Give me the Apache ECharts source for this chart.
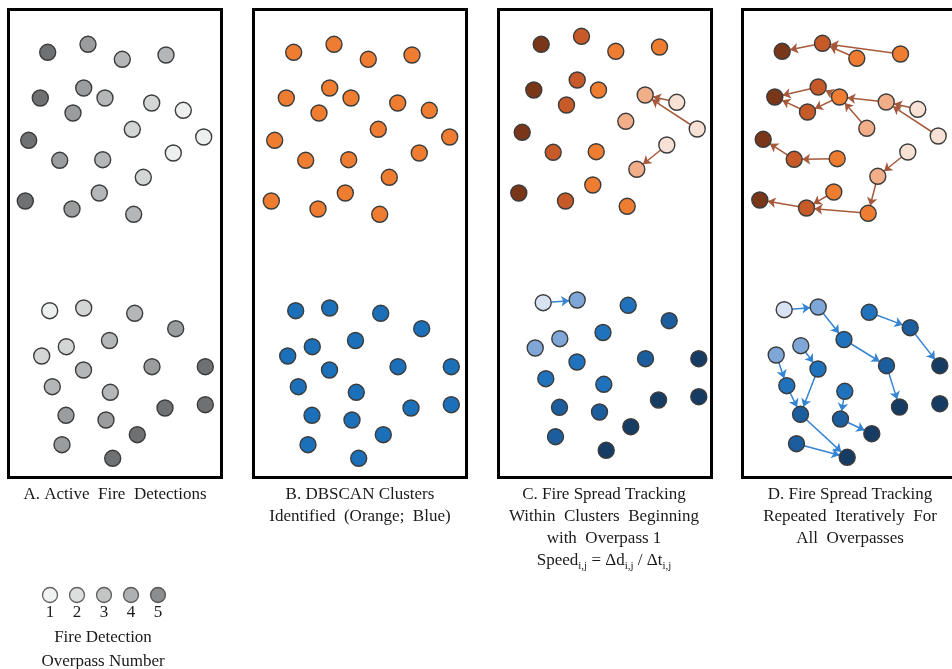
<!DOCTYPE html>
<html>
<head>
<meta charset="utf-8">
<script src="https://cdn.jsdelivr.net/npm/echarts@6/dist/echarts.min.js"></script>
<style>
  html, body { margin: 0; padding: 0; background: #ffffff; }
  #chart { width: 952px; height: 669px; }
</style>
</head>
<body>
<div id="chart"></div>
<script>
// Active fire detections, panel units (x to the right, y downwards).
// Northern cluster (drawn orange once clustered)
const northX = [39.2, 79.5, 113.8, 157.5, 75.2, 31.8, 96.5, 64.5, 143.2, 174.8, 123.8,
                195.2, 20.2, 51.2, 94.2, 164.8, 134.8, 90.8, 16.8, 63.5, 125.2];
const northY = [42.8, 34.8, 49.8, 45.5, 78.5, 88.5, 88.5, 103.5, 93.5, 100.8, 119.8,
                127.5, 130.8, 150.8, 150.2, 143.5, 167.8, 183.5, 191.5, 199.5, 204.8];
const northPass = [5, 4, 3, 3, 4, 5, 3, 4, 2, 1, 2, 1, 5, 4, 3, 1, 2, 3, 5, 4, 3];

// Southern cluster (drawn blue once clustered)
const southX = [41.2, 75.2, 126.2, 167.2, 57.8, 101.0, 33.2, 75.0, 143.5, 196.8,
                43.8, 101.8, 57.5, 97.5, 156.5, 196.8, 53.5, 128.8, 104.2];
const southY = [301.2, 298.5, 303.8, 319.2, 337.2, 331.0, 346.5, 360.5, 357.2, 357.2,
                377.2, 382.8, 405.8, 410.5, 398.5, 395.2, 435.2, 425.2, 448.8];
const southPass = [1, 2, 3, 4, 2, 3, 2, 3, 4, 5, 3, 3, 4, 4, 5, 5, 4, 5, 5];

// Tracking links [from, to] between detections of successive overpasses
const northLinksC = [[9, 8], [11, 8], [15, 16]];
const southLinksC = [[0, 1]];
const northLinksD = [[1, 0], [3, 1], [2, 1], [4, 5], [7, 5], [6, 4], [6, 7], [8, 6], [10, 6],
                     [9, 8], [11, 8], [14, 13], [13, 12], [15, 16], [16, 20], [20, 19], [17, 19], [19, 18]];
const southLinksD = [[0, 1], [1, 5], [5, 8], [8, 14], [2, 3], [3, 9], [4, 7], [7, 12],
                     [6, 10], [10, 12], [12, 18], [16, 18], [11, 13], [13, 17]];

// Overpass legend
const passLabels = ['1', '2', '3', '4', '5'];

// Captions
const captions = [
  'A. Active  Fire  Detections',
  'B. DBSCAN Clusters\nIdentified  (Orange;  Blue)',
  'C. Fire Spread Tracking\nWithin  Clusters  Beginning\nwith  Overpass 1\nSpeed{s|i,j} = Δd{s|i,j} / Δt{s|i,j}',
  'D. Fire Spread Tracking\nRepeated  Iteratively  For\nAll  Overpasses'
];
const legendTitle = 'Fire Detection\nOverpass Number';

// ---- styling ----
const grayShades   = ['#eef0ef', '#d4d6d6', '#b4b6b7', '#9a9c9e', '#6f7072'];
const orangeShades = ['#f6e1d4', '#f2ae88', '#ee7d31', '#c65a28', '#7a3618'];
const blueShades   = ['#d7e3f2', '#7ea6d7', '#1f72bb', '#1b5d9d', '#163c64'];
const clusterOrange = '#ee7d31';
const clusterBlue = '#1b70b9';
const outline = '#3c3c3c';
const serif = '"Liberation Serif", "Times New Roman", serif';

// panel frames: left edge (px) and data offsets
const panels = [
  { left: 8.5,   dx: 0,    dy: 0 },
  { left: 253.5, dx: -1,   dy: 0 },
  { left: 498.5, dx: -3.5, dy: 8 },
  { left: 742.5, dx: -0.5, dy: 1 }
];
const panelTop = 9.5, panelW = 213, panelH = 468;

const grids = [], xAxes = [], yAxes = [], series = [];

function nodes(xs, ys, colorFor) {
  return xs.map((x, i) => ({
    name: 'n' + i,
    value: [x, ys[i]],
    itemStyle: { color: colorFor(i) }
  }));
}

function graphSeries(idx, data, links, arrowColor) {
  return {
    type: 'graph',
    coordinateSystem: 'cartesian2d',
    xAxisIndex: idx,
    yAxisIndex: idx,
    symbol: 'circle',
    symbolSize: 16,
    data: data,
    links: links.map(l => ({ source: l[0], target: l[1] })),
    edgeSymbol: ['none', 'arrow'],
    edgeSymbolSize: 8,
    itemStyle: { borderColor: outline, borderWidth: 1.4 },
    lineStyle: { color: arrowColor, width: 1.5, opacity: 1, curveness: 0 },
    label: { show: false },
    emphasis: { disabled: true },
    silent: true,
    z: 3
  };
}

panels.forEach((p, idx) => {
  grids.push({
    left: p.left, top: panelTop, width: panelW, height: panelH,
    show: true, borderColor: '#000000', borderWidth: 3,
    backgroundColor: 'transparent', containLabel: false,
    outerBoundsMode: 'none'
  });
  xAxes.push({ type: 'value', gridIndex: idx, min: p.dx, max: p.dx + panelW, show: false });
  yAxes.push({ type: 'value', gridIndex: idx, min: p.dy, max: p.dy + panelH, inverse: true, show: false });

  let nColor, sColor, nLinks = [], sLinks = [];
  if (idx === 0) {
    nColor = i => grayShades[northPass[i] - 1];
    sColor = i => grayShades[southPass[i] - 1];
  } else if (idx === 1) {
    nColor = () => clusterOrange;
    sColor = () => clusterBlue;
  } else {
    nColor = i => orangeShades[northPass[i] - 1];
    sColor = i => blueShades[southPass[i] - 1];
    nLinks = idx === 2 ? northLinksC : northLinksD;
    sLinks = idx === 2 ? southLinksC : southLinksD;
  }
  series.push(graphSeries(idx, nodes(northX, northY, nColor), nLinks, '#a5593a'));
  series.push(graphSeries(idx, nodes(southX, southY, sColor), sLinks, '#3584d3'));
});

// legend strip for overpass numbers
grids.push({ left: 36.5, top: 587, width: 135, height: 16, show: false, outerBoundsMode: 'none' });
xAxes.push({
  type: 'category', gridIndex: 4, data: passLabels,
  axisLine: { show: false }, axisTick: { show: false }, splitLine: { show: false },
  axisLabel: { fontFamily: serif, fontSize: 17, color: '#1a1a1a', margin: 1 }
});
yAxes.push({ type: 'value', gridIndex: 4, min: -1, max: 1, show: false });
series.push({
  type: 'scatter', xAxisIndex: 4, yAxisIndex: 4,
  symbol: 'circle', symbolSize: 15, silent: true,
  data: passLabels.map((p, i) => ({ value: [p, 0], itemStyle: { color: grayShades[i] } })),
  itemStyle: { borderColor: outline, borderWidth: 1.3 }
});

const captionCenters = [115, 360, 604, 850];
const titles = captions.map((t, i) => ({
  text: t,
  left: captionCenters[i],
  top: 484,
  textAlign: 'center',
  textVerticalAlign: 'top',
  padding: 0,
  textStyle: {
    fontFamily: serif, fontSize: 17, fontWeight: 'normal', color: '#1a1a1a', lineHeight: 22,
    rich: {
      s: { fontFamily: serif, fontSize: 11, color: '#1a1a1a', verticalAlign: 'bottom', lineHeight: 12 }
    }
  }
}));
titles.push({
  text: legendTitle,
  left: 103, top: 626,
  textAlign: 'center', textVerticalAlign: 'top', padding: 0,
  textStyle: { fontFamily: serif, fontSize: 17, fontWeight: 'normal', color: '#1a1a1a', lineHeight: 24 }
});

const chart = echarts.init(document.getElementById('chart'), null, { renderer: 'canvas' });
chart.setOption({
  animation: false,
  backgroundColor: '#ffffff',
  title: titles,
  grid: grids,
  xAxis: xAxes,
  yAxis: yAxes,
  series: series
});
</script>
</body>
</html>
